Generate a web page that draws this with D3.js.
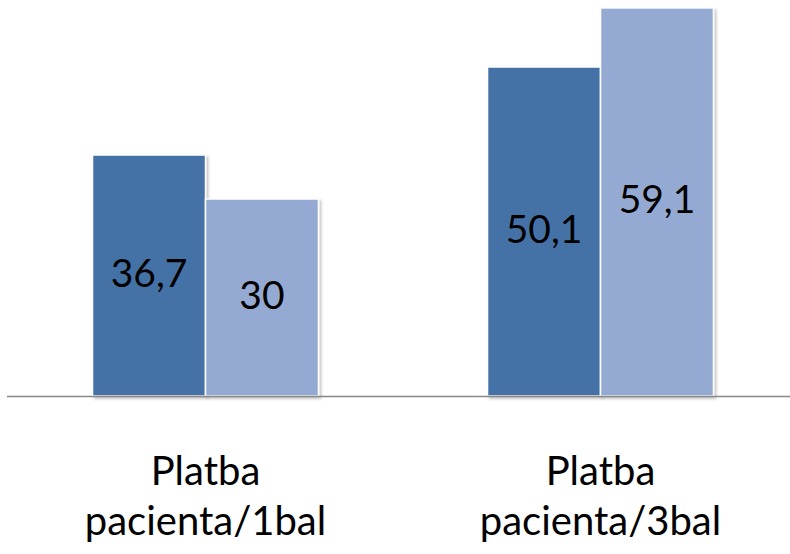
<!DOCTYPE html>
<html><head><meta charset="utf-8">
<script src="https://cdn.jsdelivr.net/npm/d3@7"></script>
<style>html,body{margin:0;padding:0;background:#fff;}svg{display:block;}</style>
</head><body>
<script>
const categories = [["Platba", "pacienta/1bal"], ["Platba", "pacienta/3bal"]];
const seriesNames = ["A", "B"];
const seriesA = [36.7, 50.1];
const seriesB = [30, 59.1];
const colors = ["#4472A6", "#95AAD2"];

const W = 790, H = 554;
const FONT = "Lato, 'Open Sans', sans-serif";
const svg = d3.select("body").append("svg").attr("width", W).attr("height", H);
const defs = svg.append("defs");
const f = defs.append("filter").attr("id", "sh").attr("x", "-10%").attr("y", "-10%").attr("width", "130%").attr("height", "130%");
f.append("feDropShadow").attr("dx", 2).attr("dy", 2).attr("stdDeviation", 1.5).attr("flood-color", "#000").attr("flood-opacity", 0.25);

const x0 = d3.scaleBand().domain(d3.range(categories.length)).range([8, 798]).paddingInner(0.428).paddingOuter(0.214);
const x1 = d3.scaleBand().domain(seriesNames).range([0, x0.bandwidth()]);
const y = d3.scaleLinear().domain([0, 60]).range([396, 2]);

const data = categories.map((c, i) => ({i, vals: [seriesA[i], seriesB[i]]}));

const g = svg.append("g");
data.forEach(d => {
  d.vals.forEach((v, k) => {
    const bx = x0(d.i) + x1(seriesNames[k]);
    g.append("rect")
      .attr("x", bx).attr("y", y(v))
      .attr("width", x1.bandwidth()).attr("height", y(0) - y(v))
      .attr("fill", colors[k]).attr("stroke", "#fff").attr("stroke-width", 1.5)
      .attr("filter", "url(#sh)");
    g.append("text")
      .attr("x", bx + x1.bandwidth() / 2)
      .attr("y", (y(v) + y(0)) / 2 + 11)
      .attr("text-anchor", "middle")
      .attr("font-family", FONT)
      .attr("font-size", 39)
      .attr("fill", "#000")
      .text(String(v).replace(".", ","));
  });
});

svg.append("line").attr("x1", 7).attr("x2", 790).attr("y1", y(0) + 0.5).attr("y2", y(0) + 0.5)
  .attr("stroke", "#888").attr("stroke-width", 1.5);

categories.forEach((c, i) => {
  const cx = x0(i) + x0.bandwidth() / 2;
  const t = svg.append("text").attr("text-anchor", "middle")
    .attr("font-family", FONT).attr("font-size", 40).attr("fill", "#000");
  c.forEach((line, j) => {
    t.append("tspan").attr("x", cx).attr("y", 485 + j * 50).text(line);
  });
});
</script>
</body></html>
